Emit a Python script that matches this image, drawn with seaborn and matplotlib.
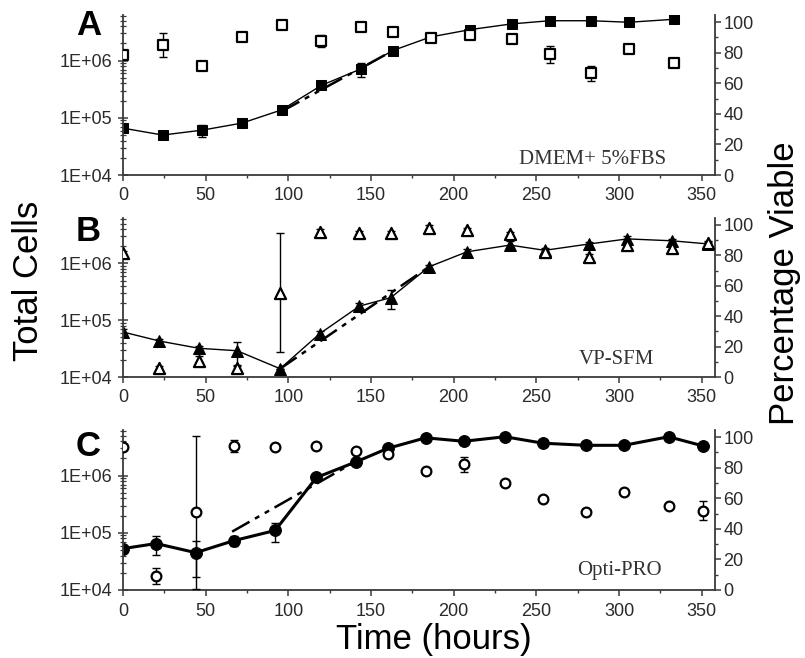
import matplotlib
matplotlib.use("Agg")
import matplotlib.pyplot as plt
import matplotlib.ticker as mticker
import seaborn as sns
import numpy as np

# Panel A: DMEM + 5% FBS (squares)
time_a = [0, 24, 48, 72, 96, 120, 144, 163, 186, 210, 235, 258, 283, 306, 333]
cells_a = [6.6e4, 5.0e4, 6.1e4, 8.1e4, 1.38e5, 3.7e5, 7.2e5, 1.5e6, 2.6e6, 3.5e6, 4.4e6, 5.0e6, 5.0e6, 4.7e6, 5.3e6]
cells_a_err = [0, 0, 1.5e4, 0, 0, 4e4, 2e5, 1e5, 0, 0, 0, 0, 0, 0, 0]
viab_a = [78.4, 85, 71.4, 90.4, 98, 87.6, 96.9, 93.2, 89.7, 91.5, 88.7, 79, 66.5, 82.4, 73.4]
viab_a_err = [2, 8, 1.5, 1.5, 1.5, 4, 1.5, 1.5, 1.5, 1.5, 1.5, 5.5, 5, 1.5, 1.5]
fit_a_time = [96, 165]
fit_a_cells = [1.3e5, 1.6e6]

# Panel B: VP-SFM (triangles)
time_b = [0, 22, 46, 69, 95, 119, 143, 162, 185, 208, 234, 255, 282, 305, 332, 354]
cells_b = [6.2e4, 4.3e4, 3.2e4, 2.9e4, 1.4e4, 5.8e4, 1.77e5, 2.5e5, 8.7e5, 1.6e6, 2.1e6, 1.7e6, 2.2e6, 2.7e6, 2.5e6, 2.2e6]
cells_b_err = [8e3, 4e3, 3e3, 1.3e4, 0, 6e3, 2e4, 9e4, 8e4, 2e5, 4e5, 2e5, 2e5, 3e5, 2e5, 2e5]
viab_b = [81.4, 5.7, 10.7, 5.7, 55.5, 95.6, 94.5, 94.5, 97.8, 96.7, 93.9, 82.4, 78.7, 86.8, 84.6, 88]
viab_b_err = [1.5, 1.5, 3, 1.5, 39, 2, 1.5, 1.5, 2, 1.5, 1.5, 1.5, 2, 1.5, 1.5, 1.5]
fit_b_time = [95, 185]
fit_b_cells = [1.4e4, 8.7e5]

# Panel C: Opti-PRO (circles)
time_c = [0, 20, 44, 67, 92, 117, 141, 160, 183, 206, 231, 254, 280, 303, 330, 351]
cells_c = [5.3e4, 6.5e4, 4.5e4, 7.3e4, 1.1e5, 9.3e5, 1.75e6, 3.0e6, 4.6e6, 4.0e6, 4.8e6, 3.7e6, 3.4e6, 3.4e6, 4.8e6, 3.3e6]
cells_c_err = [0, 2.4e4, 2.8e4, 1.4e4, 4e4, 0, 0, 0, 0, 0, 0, 0, 0, 0, 0, 0]
viab_c = [93.4, 9.2, 50.8, 93.9, 93.4, 93.9, 90.8, 89.1, 77.7, 82.1, 69.8, 59.6, 51.2, 63.9, 55.2, 51.9]
viab_c_err = [1.5, 5.5, 50, 4, 1.5, 1.5, 1.5, 1.5, 1.5, 5, 1.5, 1.5, 1.5, 1.5, 1.5, 6]
fit_c_time = [66, 138]
fit_c_cells = [1.05e5, 1.6e6]

panel_letters = ["A", "B", "C"]
media_names = ["DMEM+ 5%FBS", "VP-SFM", "Opti-PRO"]

sns.set_theme(style="ticks")
plt.rcParams["font.family"] = ["Liberation Sans", "DejaVu Sans"]

W, H = 805, 658
fig = plt.figure(figsize=(W / 100, H / 100), dpi=100)

AX_LEFT, AX_RIGHT = 123, 715
panel_rows = [(15, 175), (218, 377), (430, 590)]
SPINE = "#3a3a3a"


def log_fmt(v, pos):
    return "1E+%02d" % int(round(np.log10(v)))


def draw_panel(row, t, cells, cells_err, viab, viab_err, fit_t, fit_cells,
               marker, ms_fill, ms_open, lw, medium, text_xy):
    top, bottom = panel_rows[row]
    ax = fig.add_axes([AX_LEFT / W, 1 - bottom / H,
                       (AX_RIGHT - AX_LEFT) / W, (bottom - top) / H])
    ax.set_yscale("log")
    ax.errorbar(t, cells, yerr=cells_err, fmt="none", ecolor="black",
                elinewidth=1.0, capsize=3, capthick=1.0)
    sns.lineplot(x=t, y=cells, ax=ax, color="black", lw=lw, marker=marker,
                 markersize=ms_fill, markeredgecolor="black", errorbar=None,
                 sort=False)
    # exponential-phase fit
    ax.plot(fit_t, fit_cells, color="black", lw=1.8,
            linestyle=(0, (8, 2.5, 2, 2.5, 2, 2.5)))
    ax.set_xlim(0, 358)
    ax.set_ylim(1e4, 6.3e6)
    ax.yaxis.set_major_locator(mticker.FixedLocator([1e4, 1e5, 1e6]))
    ax.yaxis.set_major_formatter(mticker.FuncFormatter(log_fmt))
    ax.yaxis.set_minor_locator(mticker.LogLocator(base=10, subs=np.arange(2, 10)))
    ax.yaxis.set_minor_formatter(mticker.NullFormatter())
    ax.xaxis.set_major_locator(mticker.MultipleLocator(50))
    ax.xaxis.set_minor_locator(mticker.MultipleLocator(25))
    ax.tick_params(axis="y", which="major", direction="inout", length=7,
                   width=1.1, color=SPINE, labelsize=13, pad=4)
    ax.tick_params(axis="y", which="minor", direction="inout", length=4,
                   width=0.9, color=SPINE)
    ax.tick_params(axis="x", which="major", direction="out", length=4,
                   width=1.1, color=SPINE, labelsize=13, pad=5)
    ax.tick_params(axis="x", which="minor", direction="out", length=2,
                   width=1.0, color=SPINE)
    for side in ["left", "bottom"]:
        ax.spines[side].set_color(SPINE)
        ax.spines[side].set_linewidth(1.3)
    ax.spines["top"].set_visible(False)
    ax.spines["right"].set_visible(False)
    ax.set_xlabel("")
    ax.set_ylabel("")
    for lab in ax.get_xticklabels() + ax.get_yticklabels():
        lab.set_color("#2a2a2a")

    ax2 = ax.twinx()
    ax2.errorbar(t, viab, yerr=viab_err, fmt="none", ecolor="black",
                 elinewidth=1.0, capsize=3, capthick=1.0)
    sns.scatterplot(x=t, y=viab, ax=ax2, marker=marker, s=ms_open ** 2,
                    facecolor="white", edgecolor="black", linewidth=1.6,
                    zorder=3)
    ax2.set_ylim(0, 104.6)
    ax2.yaxis.set_major_locator(mticker.MultipleLocator(20))
    ax2.yaxis.set_minor_locator(mticker.MultipleLocator(10))
    ax2.tick_params(axis="y", which="major", direction="out", length=4,
                    width=1.1, color=SPINE, labelsize=13, pad=2)
    ax2.tick_params(axis="y", which="minor", direction="out", length=2,
                    width=1.0, color=SPINE)
    ax2.spines["right"].set_color(SPINE)
    ax2.spines["right"].set_linewidth(1.3)
    for side in ["top", "left", "bottom"]:
        ax2.spines[side].set_visible(False)
    ax2.set_ylabel("")
    for lab in ax2.get_yticklabels():
        lab.set_color("#2a2a2a")

    ax2.text(text_xy[0], text_xy[1], medium, transform=ax2.transAxes,
             ha="center", va="center", fontsize=15, color="#333333",
             family=["Liberation Serif", "DejaVu Serif"])
    return ax


draw_panel(0, time_a, cells_a, cells_a_err, viab_a, viab_a_err,
           fit_a_time, fit_a_cells, "s", 7.5, 6.5, 1.0,
           media_names[0], (0.794, 0.094))
draw_panel(1, time_b, cells_b, cells_b_err, viab_b, viab_b_err,
           fit_b_time, fit_b_cells, "^", 8.5, 8, 1.0,
           media_names[1], (0.834, 0.107))
draw_panel(2, time_c, cells_c, cells_c_err, viab_c, viab_c_err,
           fit_c_time, fit_c_cells, "o", 8.5, 7, 2.2,
           media_names[2], (0.839, 0.12))

# panel letters
for letter, base in zip(panel_letters, [35, 241, 456]):
    fig.text(76 / W, 1 - base / H, letter, fontsize=25, fontweight="bold",
             ha="left", va="baseline", color="black")

fig.text(28 / W, 1 - 281 / H, "Total Cells", rotation=90, fontsize=25,
         ha="center", va="center", color="black")
fig.text(784 / W, 1 - 283 / H, "Percentage Viable", rotation=90, fontsize=25,
         ha="center", va="center", color="black")
fig.text(434 / W, 1 - 649 / H, "Time (hours)", fontsize=25,
         ha="center", va="baseline", color="black")

fig.savefig("out.png", dpi=100, facecolor="white")
